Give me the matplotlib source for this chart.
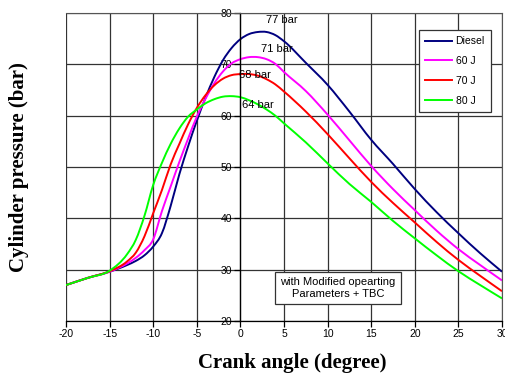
import matplotlib
matplotlib.use('Agg')
import matplotlib.pyplot as plt
from matplotlib.path import Path
from matplotlib.patches import PathPatch
import numpy as np

plt.rcParams['axes.unicode_minus'] = False

# crank angle (deg) and cylinder pressure (bar)
angle = [-20, -17.5, -15, -13, -12, -11, -10, -9, -8, -7, -6, -5, -4, -3, -2, -1,
         0, 1, 2, 3, 4, 5, 7.5, 10, 12.5, 15, 17.5, 20, 22.5, 25, 27.5, 30]

diesel = [27.0, 28.4, 29.6, 30.9, 31.7, 32.8, 34.5, 37.1, 42.4, 48.6, 54.0, 59.0, 63.5, 67.5,
          70.8, 73.2, 74.9, 75.9, 76.3, 76.3, 75.7, 74.5, 70.3, 66.0, 60.8, 55.3, 50.6, 45.7,
          41.2, 37.1, 33.2, 29.6]
j60 = [27.0, 28.4, 29.6, 31.2, 32.3, 33.8, 35.9, 41.4, 46.2, 51.0, 55.5, 59.8, 63.3, 66.3,
       68.6, 70.2, 71.0, 71.4, 71.4, 71.0, 70.1, 68.5, 64.8, 60.2, 55.2, 50.2, 45.7, 41.6,
       37.6, 34.0, 30.9, 27.9]
j70 = [27.0, 28.4, 29.7, 31.6, 33.3, 36.5, 41.0, 45.5, 50.5, 54.5, 58.3, 61.5, 64.0, 65.9,
       67.2, 67.9, 68.1, 68.1, 67.8, 67.1, 66.1, 64.7, 60.8, 56.4, 51.7, 47.1, 43.0, 39.2,
       35.4, 31.9, 28.8, 25.8]
j80 = [27.0, 28.4, 29.8, 33.0, 35.8, 40.5, 46.5, 50.8, 54.5, 57.5, 59.8, 61.2, 62.4, 63.2,
       63.7, 63.8, 63.6, 63.0, 62.2, 61.2, 60.0, 58.5, 54.8, 50.7, 46.7, 43.2, 39.5, 36.1,
       32.8, 29.7, 27.0, 24.4]

series = [('Diesel', diesel, '#000080'),
          ('60 J', j60, '#ff00ff'),
          ('70 J', j70, '#ff0000'),
          ('80 J', j80, '#00ff00')]

peak_labels = ['77 bar', '71 bar', '68 bar', '64 bar']
peak_pos = [(4.7, 78.6), (4.2, 73.0), (1.7, 68.0), (2.0, 62.0)]


def smooth_path(x, y):
    # smoothed line like the spreadsheet: cubic bezier through every point
    x = np.asarray(x, float)
    y = np.asarray(y, float)
    m = np.gradient(y, x)
    verts = [(x[0], y[0])]
    codes = [Path.MOVETO]
    for i in range(len(x) - 1):
        h = x[i + 1] - x[i]
        verts += [(x[i] + h / 3, y[i] + m[i] * h / 3),
                  (x[i + 1] - h / 3, y[i + 1] - m[i + 1] * h / 3),
                  (x[i + 1], y[i + 1])]
        codes += [Path.CURVE4] * 3
    return Path(verts, codes)


fig = plt.figure(figsize=(5.06, 3.79), dpi=100)
ax = fig.add_axes([66/506, 58/379, 436/506, 308/379])

for name, vals, col in series:
    ax.add_patch(PathPatch(smooth_path(angle, vals), fc='none', ec=col, lw=1.4))
    ax.plot([], [], color=col, lw=1.4, label=name)

ax.set_xlim(-20, 30)
ax.set_ylim(20, 80)
ax.set_xticks(np.arange(-20, 31, 5))
ax.set_yticks(np.arange(20, 81, 10))
ax.grid(True, color='#333333', lw=0.9)
ax.set_axisbelow(True)

# y axis sits at crank angle 0
ax.spines['left'].set_position(('data', 0))
ax.spines['left'].set_linewidth(0.9)
ax.spines['bottom'].set_linewidth(0.9)
for s in ['top', 'right']:
    ax.spines[s].set_color('#555555')
ax.tick_params(axis='both', direction='out', length=4, width=0.9,
               labelsize=7.5, pad=2)
for lab in ax.get_xticklabels() + ax.get_yticklabels():
    lab.set_family('Liberation Sans')

for txt, (px, py) in zip(peak_labels, peak_pos):
    ax.text(px, py, txt, ha='center', va='center', fontsize=8,
            family='Liberation Sans')

ax.text(11.2, 26.4, 'with Modified opearting\nParameters + TBC', ha='center',
        va='center', fontsize=8, family='Liberation Sans', linespacing=1.3,
        bbox=dict(boxstyle='square,pad=0.45', fc='white', ec='#333333', lw=0.9))

leg = ax.legend(loc='upper right', bbox_to_anchor=(0.975, 0.945), fancybox=False,
                framealpha=1, edgecolor='#333333', prop={'family': 'Liberation Sans', 'size': 7.5},
                handlelength=2.6, labelspacing=0.95, borderpad=0.6, handletextpad=0.3,
                borderaxespad=0)
leg.get_frame().set_linewidth(0.9)

ax.set_xlabel('Crank angle (degree)', family='Liberation Serif', fontweight='bold',
              fontsize=15)
ax.set_ylabel('Cylinder pressure (bar)', family='Liberation Serif', fontweight='bold',
              fontsize=15)
ax.xaxis.set_label_coords(0.518, -0.105)
ax.yaxis.set_label_coords(-0.085, 0.5)

plt.savefig('out.png', dpi=100)
